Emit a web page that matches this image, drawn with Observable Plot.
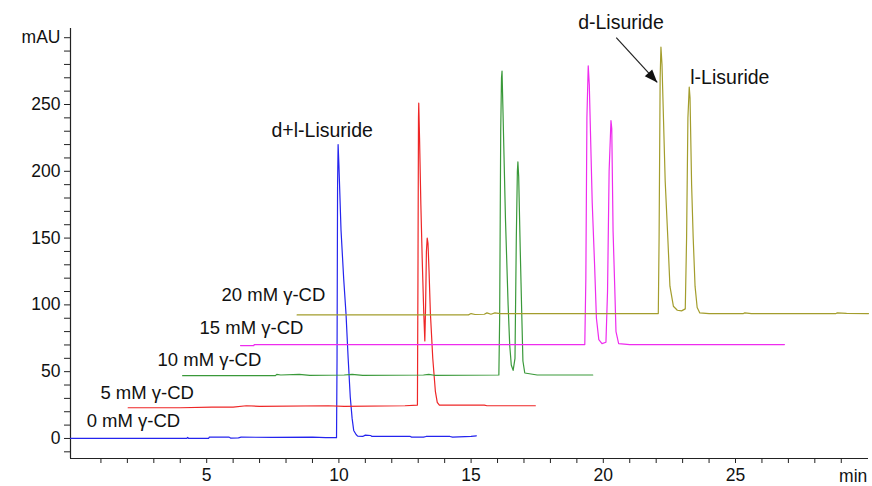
<!DOCTYPE html>
<html>
<head>
<meta charset="utf-8">
<script src="https://cdn.jsdelivr.net/npm/d3@7"></script>
<script src="https://cdn.jsdelivr.net/npm/@observablehq/plot@0.6"></script>
<style>
  html, body { margin: 0; padding: 0; background: #fff; }
  #chart { width: 872px; height: 486px; }
</style>
</head>
<body>
<div id="chart"></div>
<script>
// ---- Data (time in min, signal in mAU) ----
const seriesNames = ["0 mM γ-CD", "5 mM γ-CD", "10 mM γ-CD", "15 mM γ-CD", "20 mM γ-CD"];
const seriesColors = ["#2424ee", "#ee2626", "#3a993a", "#ee2cee", "#a39d2c"];

const trace0mM = [
  [-0.15, 0], [4.25, 0], [4.28, 0.8], [4.32, 0], [5.07, 0], [5.1, 1.0], [5.85, 1.0], [5.9, 0.3],
  [6.2, 0.5], [6.3, 1.0], [7.5, 0.8], [9.0, 1.0], [9.5, 0.6], [9.91, 0.6], [9.93, 60], [9.95, 190],
  [9.97, 220], [10.0, 205], [10.08, 156], [10.18, 120], [10.27, 93], [10.35, 60], [10.43, 31],
  [10.5, 15], [10.56, 6], [10.65, 3], [10.71, 1.8], [10.9, 1.5], [11.0, 2.5], [11.2, 2.2],
  [11.25, 1.5], [12.7, 1.5], [12.75, 1.0], [13.2, 1.0], [13.3, 1.5], [14.2, 1.5], [14.3, 1.0],
  [15.0, 1.5], [15.2, 2]
];
const trace5mM = [
  [2.03, 23], [4.0, 23], [5.2, 23.5], [6.0, 23.5], [6.5, 24.5], [7.0, 24], [9.6, 24.5], [10.2, 24],
  [12.5, 24.5], [12.97, 25], [12.99, 120], [13.01, 240], [13.02, 251], [13.05, 225], [13.1, 175],
  [13.15, 135], [13.21, 94], [13.25, 73], [13.28, 100], [13.31, 140], [13.34, 150], [13.37, 146],
  [13.41, 125], [13.46, 94], [13.55, 60], [13.65, 35], [13.72, 27], [13.8, 25], [15.5, 25],
  [15.6, 24.5], [17.43, 24.5]
];
const trace10mM = [
  [4.09, 47], [7.6, 47], [7.65, 48], [7.8, 47.5], [8.5, 48], [8.9, 47.2], [10.2, 47.5], [10.5, 48],
  [10.9, 47.3], [13.2, 47.5], [13.4, 48], [13.6, 47.3], [16.05, 47.5], [16.08, 90], [16.12, 230],
  [16.15, 270], [16.17, 275], [16.2, 250], [16.3, 164], [16.4, 100], [16.46, 70], [16.52, 55],
  [16.59, 51], [16.66, 60], [16.71, 150], [16.75, 200], [16.77, 207], [16.8, 196], [16.86, 140],
  [16.92, 90], [16.96, 58], [17.03, 49], [17.5, 47.5], [19.6, 47.5]
];
const trace15mM = [
  [6.28, 69.5], [6.78, 69.5], [6.8, 70.3], [19.3, 70.3], [19.34, 120], [19.38, 240], [19.43, 279],
  [19.47, 265], [19.58, 177], [19.67, 130], [19.74, 90], [19.83, 74], [19.95, 71], [20.1, 72],
  [20.16, 110], [20.22, 200], [20.29, 238], [20.32, 232], [20.37, 155], [20.43, 115], [20.48, 80],
  [20.58, 71], [21.0, 70.3], [26.85, 70.3]
];
const trace20mM = [
  [8.42, 92.5], [14.9, 92.5], [15.0, 93.5], [15.15, 92.8], [15.5, 93], [15.6, 94], [15.75, 93],
  [15.9, 94], [16.1, 93.5], [22.08, 93.5], [22.11, 150], [22.15, 270], [22.18, 293], [22.22, 280],
  [22.34, 193], [22.44, 150], [22.52, 114], [22.65, 99], [22.8, 96], [22.96, 95.5], [23.1, 97],
  [23.15, 150], [23.2, 240], [23.25, 263], [23.28, 255], [23.34, 190], [23.4, 150], [23.47, 114],
  [23.55, 98], [23.65, 94], [24.0, 93.5], [25.3, 93.5], [25.35, 94], [25.6, 93.5], [28.8, 93.5],
  [28.85, 94], [29.2, 93.7], [30.03, 93.5]
];
const traces = [trace0mM, trace5mM, trace10mM, trace15mM, trace20mM];

// Series label anchors (left edge, in data units)
const labelT = [0.46, 0.98, 3.14, 4.73, 5.56];
const labelV = [12.7, 33.7, 59, 83, 107];

// Peak annotations
const annotTexts = ["d+l-Lisuride", "d-Lisuride", "l-Lisuride"];
const annotT = [7.45, 19.05, 23.29];
const annotV = [230.5, 311.5, 270];
const arrowFrom = [20.49, 300];
const arrowTo = [22.04, 266.5];

// Axes
const xMajorTicks = [5, 10, 15, 20, 25];
const xMajorLabels = ["5", "10", "15", "20", "25"];
const xMinorTicks = [1,2,3,4,6,7,8,9,11,12,13,14,16,17,18,19,21,22,23,24,26,27,28,29];
const yMajorTicks = [0, 50, 100, 150, 200, 250, 300];
const yMajorLabels = ["0", "50", "100", "150", "200", "250", "mAU"];
const yMinorTicks = [-10,10,20,30,40,60,70,80,90,110,120,130,140,160,170,180,190,210,220,230,240,260,270,280,290];
const xDomain = [-0.151, 30.03];
const yDomain = [-15, 306.9];

// ---- Build table ----
const rows = traces.flatMap((tr, i) => tr.map(([t, v]) => ({t, v, s: seriesNames[i]})));
const labels = seriesNames.map((s, i) => ({s, t: labelT[i], v: labelV[i]}));
const annots = annotTexts.map((a, i) => ({a, t: annotT[i], v: annotV[i]}));

const FONT = "'Liberation Sans', Arial, Helvetica, sans-serif";
const FS_TICK = 17.5;
const FS_SERIES = 18.5;
const FS_ANNOT = 19.5;

const chart = Plot.plot({
  width: 872,
  height: 486,
  marginLeft: 70,
  marginRight: 4,
  marginTop: 28,
  marginBottom: 28,
  style: {fontFamily: FONT, fontSize: FS_TICK + "px", color: "#111", background: "#fff"},
  x: {domain: xDomain, axis: null},
  y: {domain: yDomain, axis: null},
  color: {domain: seriesNames, range: seriesColors},
  marks: [
    Plot.ruleX([xDomain[0]], {stroke: "#222", strokeWidth: 1.2}),
    Plot.ruleY([yDomain[0]], {stroke: "#222", strokeWidth: 1.2}),
    Plot.axisX({ticks: xMinorTicks, tickSize: 5, tickFormat: () => "", anchor: "bottom", label: null, stroke: "#222"}),
    Plot.axisX({ticks: xMajorTicks, tickSize: 5, tickPadding: 5, anchor: "bottom", label: null,
      tickFormat: d => xMajorLabels[xMajorTicks.indexOf(d)], fontSize: FS_TICK, fill: "#111", stroke: "#222"}),
    Plot.axisY({ticks: yMinorTicks, tickSize: 6, tickFormat: () => "", anchor: "left", label: null, stroke: "#222"}),
    Plot.axisY({ticks: yMajorTicks, tickSize: 6, tickPadding: 4, anchor: "left", label: null,
      tickFormat: d => yMajorLabels[yMajorTicks.indexOf(d)], fontSize: FS_TICK, fill: "#111", stroke: "#222"}),
    Plot.text(["min"], {x: 29.45, y: yDomain[0], dy: 18, fontSize: FS_TICK, fill: "#111"}),
    Plot.line(rows, {x: "t", y: "v", z: "s", stroke: "s", strokeWidth: 1.2, curve: "linear"}),
    Plot.text(labels, {x: "t", y: "v", text: "s", textAnchor: "start", fontSize: FS_SERIES, fill: "#111"}),
    Plot.text(annots, {x: "t", y: "v", text: "a", textAnchor: "start", fontSize: FS_ANNOT, fill: "#111"}),
    Plot.link([0], {x1: arrowFrom[0], y1: arrowFrom[1], x2: arrowTo[0], y2: arrowTo[1], stroke: "#222", strokeWidth: 1.2}),
    Plot.vector([0], {x: arrowTo[0], y: arrowTo[1], rotate: 137.7, length: 13, r: 5,
      shape: "spike", anchor: "end", fill: "#111", stroke: "none"})
  ]
});
document.getElementById("chart").appendChild(chart);
</script>
</body>
</html>
